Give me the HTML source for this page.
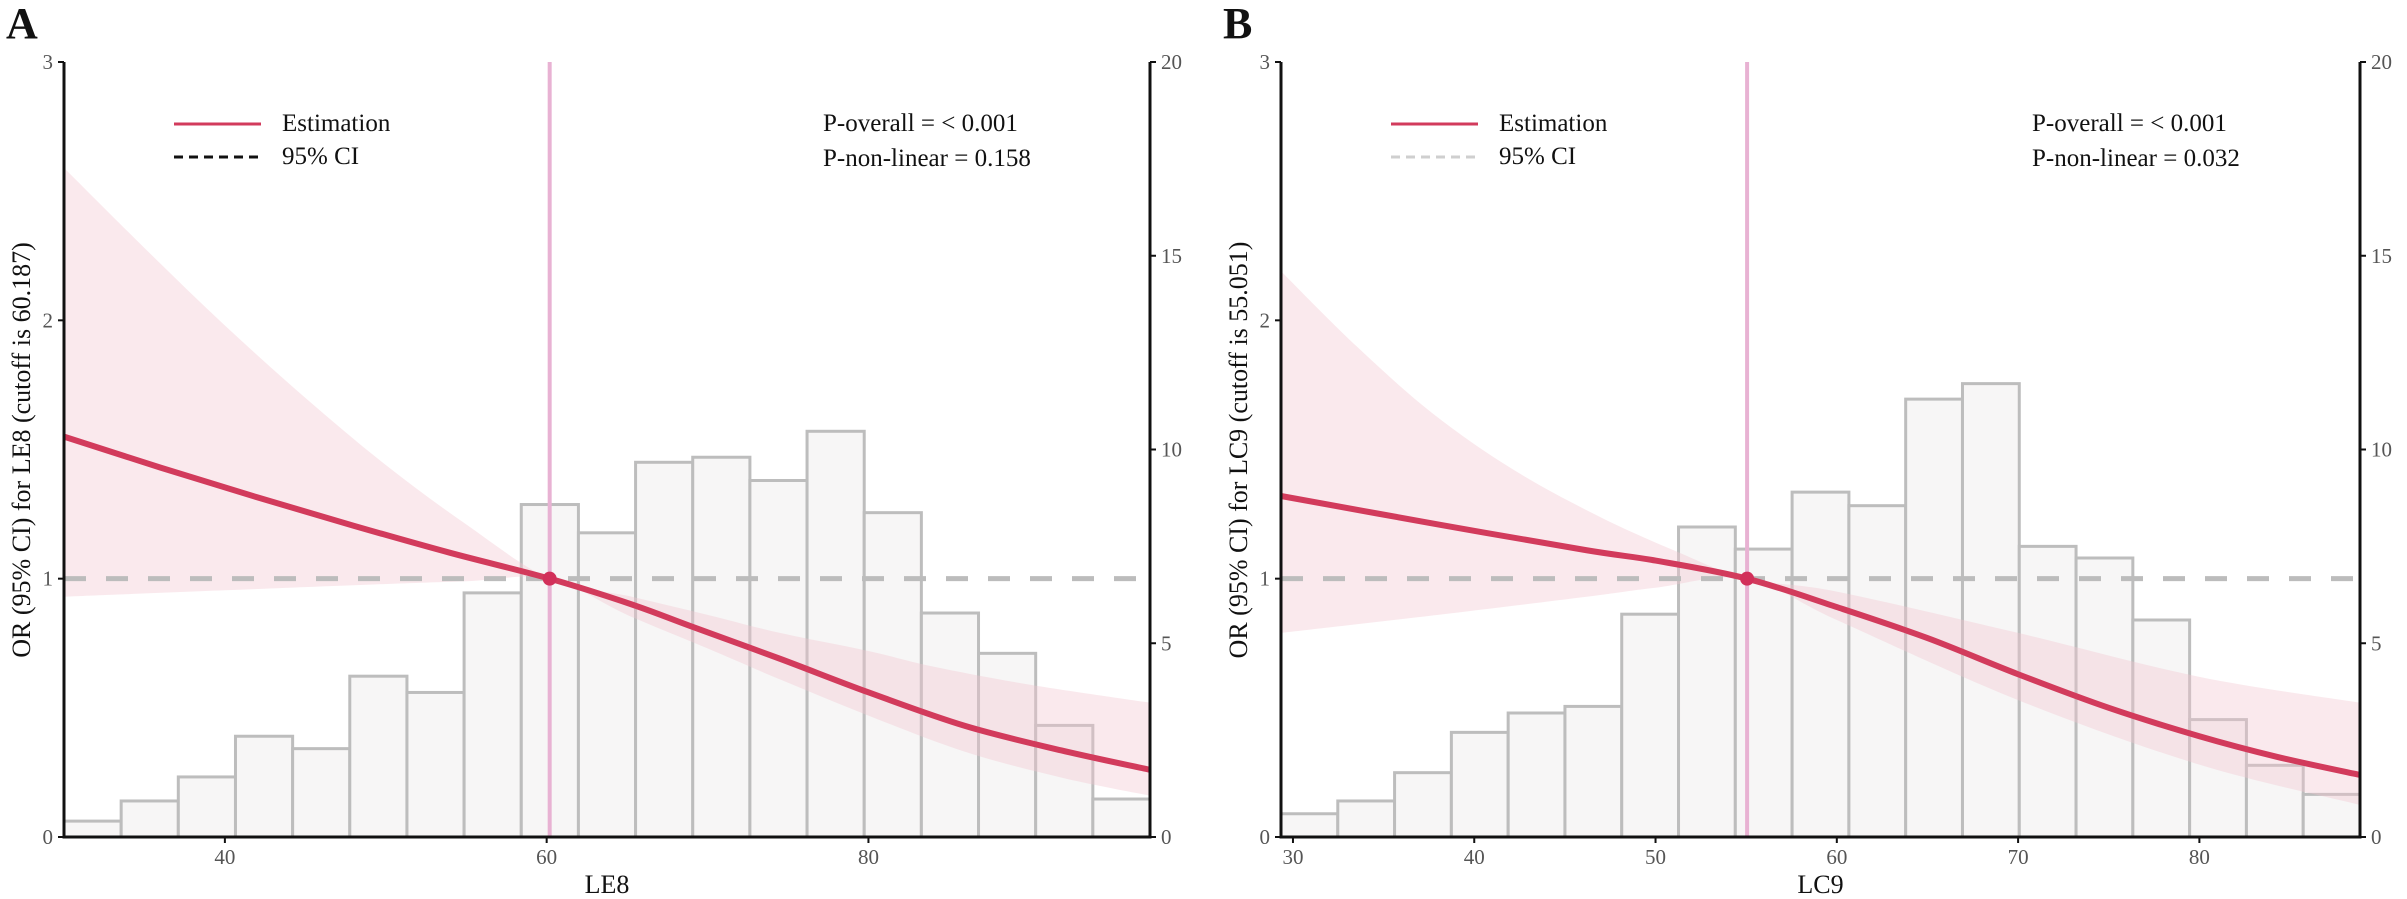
<!DOCTYPE html>
<html><head><meta charset="utf-8"><style>
html,body{margin:0;padding:0;background:#fff;}
svg{display:block;font-family:"Liberation Serif",serif;}
</style></head><body>
<svg id="chart" width="2407" height="899" viewBox="0 0 2407 899" xmlns="http://www.w3.org/2000/svg"></svg>
<script>
// ---------- Panel A data ----------
const aBinCounts = [0.41,0.93,1.55,2.6,2.28,4.15,3.73,6.3,8.58,7.85,9.67,9.8,9.2,10.47,8.37,5.78,4.74,2.88,0.98];
const aEstX = [30,36,42,48,54,60.187,65.3,69,74.5,80,86,92,97.5];
const aEstY = [1.55,1.43,1.315,1.205,1.1,1.0,0.90,0.815,0.69,0.56,0.43,0.335,0.26];
const aUpX = [30,35,40,45,50,55,60.187,65.3,70,74.5,80,84,90,97.5];
const aUpY = [2.59,2.28,1.98,1.7,1.44,1.21,1.0,0.93,0.86,0.79,0.72,0.66,0.59,0.52];
const aLoX = [30,40,49,55,60.187,65,70,74.5,80,86,92,97.5];
const aLoY = [0.93,0.955,0.977,0.99,1.0,0.86,0.73,0.61,0.47,0.33,0.23,0.16];
const aXTicks = [40,60,80];
// ---------- Panel B data ----------
const bBinCounts = [0.6,0.93,1.66,2.7,3.2,3.37,5.75,8.0,7.43,8.9,8.55,11.3,11.7,7.5,7.2,5.6,3.03,1.85,1.1];
const bEstX = [29.34,38,46.2,50,55.05,60,65,70,75,80,84.3,88.86];
const bEstY = [1.32,1.21,1.11,1.07,1.0,0.89,0.77,0.63,0.5,0.39,0.31,0.24];
const bUpX = [29.34,33.5,37.7,42.2,46.9,51,55.05,60,70,80,88.86];
const bUpY = [2.19,1.9,1.64,1.42,1.24,1.11,1.0,0.95,0.79,0.62,0.52];
const bLoX = [29.34,38,46.2,50,55.05,60,70,80,88.86];
const bLoY = [0.79,0.86,0.93,0.965,1.0,0.84,0.53,0.28,0.124];
const bXTicks = [30,40,50,60,70,80];
const leftTicks = [0,1,2,3];
const rightTicks = [0,5,10,15,20];

const NS="http://www.w3.org/2000/svg";
const svg=document.getElementById('chart');
function el(tag,attrs,parent){const e=document.createElementNS(NS,tag);for(const k in attrs)e.setAttribute(k,attrs[k]);(parent||svg).appendChild(e);return e;}
function pathThrough(pts){
  let d=`M${pts[0][0]},${pts[0][1]}`;
  for(let i=0;i<pts.length-1;i++){
    const p0=pts[Math.max(0,i-1)],p1=pts[i],p2=pts[i+1],p3=pts[Math.min(pts.length-1,i+2)];
    const c1=[p1[0]+(p2[0]-p0[0])/6,p1[1]+(p2[1]-p0[1])/6];
    const c2=[p2[0]-(p3[0]-p1[0])/6,p2[1]-(p3[1]-p1[1])/6];
    d+=` C${c1[0]},${c1[1]} ${c2[0]},${c2[1]} ${p2[0]},${p2[1]}`;
  }
  return d;
}
function panel(cfg){
  const g=el('g',{});
  
  
  const x=v=>cfg.x0+(v-cfg.d0)/(cfg.d1-cfg.d0)*(cfg.x1-cfg.x0);
  const yL=v=>837-v*(837-62)/3;
  const yR=v=>837-v*(837-62)/20;
  const n=cfg.bins.length, bw=(cfg.d1-cfg.d0)/n;
  cfg.bins.forEach((c,i)=>{
    const r=el('rect',{x:x(cfg.d0+i*bw),y:yR(c),width:x(cfg.d0+(i+1)*bw)-x(cfg.d0+i*bw),height:837-yR(c),fill:'#f7f6f6',stroke:'#bdbdbd','stroke-width':3},g);
    
    
  });
  const up=cfg.upX.map((v,i)=>[x(v),yL(cfg.upY[i])]);
  const lo=cfg.loX.map((v,i)=>[x(v),yL(cfg.loY[i])]).reverse();
  const band=el('path',{d:pathThrough(up)+' L'+lo[0][0]+','+lo[0][1]+pathThrough(lo).replace(/^M[^C]*/,' ')+' Z',fill:'#f2c6cf','fill-opacity':0.38,stroke:'none'},g);
  
  
  const ref=el('line',{x1:cfg.x0,x2:cfg.x1,y1:yL(1),y2:yL(1),stroke:'#bcbcbc','stroke-width':5,'stroke-dasharray':'22 20'},g);
  
  
  const cut=el('line',{x1:x(cfg.cut),x2:x(cfg.cut),y1:62,y2:837,stroke:'#e8b2d3','stroke-width':4},g);
  
  
  const est=el('path',{d:pathThrough(cfg.estX.map((v,i)=>[x(v),yL(cfg.estY[i])])),fill:'none',stroke:'#d23b5c','stroke-width':6},g);
  
  
  const pt=el('circle',{cx:x(cfg.cut),cy:yL(1),r:7,fill:'#d2305a'},g);
  
  
  const axes=el('path',{d:`M${cfg.x0},62 V837 H${cfg.x1} V62`,fill:'none',stroke:'#111','stroke-width':3},g);
  
  
  leftTicks.forEach(t=>{
    el('line',{x1:cfg.x0-6,x2:cfg.x0,y1:yL(t),y2:yL(t),stroke:'#111','stroke-width':2},g);
    const tx=el('text',{x:cfg.x0-11,y:yL(t)+7,'text-anchor':'end','font-size':21,fill:'#555'},g);
    tx.textContent=t;
    
    
  });
  rightTicks.forEach(t=>{
    el('line',{x1:cfg.x1,x2:cfg.x1+6,y1:yR(t),y2:yR(t),stroke:'#111','stroke-width':2},g);
    const tx=el('text',{x:cfg.x1+11,y:yR(t)+7,'text-anchor':'start','font-size':21,fill:'#555'},g);
    tx.textContent=t;
    
    
  });
  cfg.ticks.forEach(t=>{
    el('line',{x1:x(t),x2:x(t),y1:837,y2:843,stroke:'#111','stroke-width':2},g);
    const tx=el('text',{x:x(t),y:864,'text-anchor':'middle','font-size':21,fill:'#555'},g);
    tx.textContent=t;
    
    
  });
  const xt=el('text',{x:(cfg.x0+cfg.x1)/2,y:893,'text-anchor':'middle','font-size':26,fill:'#111'},g);
  xt.textContent=cfg.xTitle;
  
  
  const yt=el('text',{x:0,y:0,'text-anchor':'middle','font-size':26,fill:'#111',transform:`translate(${cfg.x0-34},450) rotate(-90)`},g);
  yt.textContent=cfg.yTitle;
  
  
  const pl=el('text',{x:cfg.x0-58,y:38,'font-size':44,'font-weight':'bold',fill:'#111'},g);
  pl.textContent=cfg.label;
  
  
  const lx=cfg.x0+110;
  const l1=el('line',{x1:lx,x2:lx+87,y1:124,y2:124,stroke:'#d23b5c','stroke-width':3},g);
  
  
  const l2=el('line',{x1:lx,x2:lx+87,y1:157,y2:157,stroke:cfg.ciLegend,'stroke-width':3,'stroke-dasharray':'9 6'},g);
  
  
  const t1=el('text',{x:lx+108,y:131,'font-size':25,fill:'#111'},g);
  t1.textContent='Estimation';
  
  
  const t2=el('text',{x:lx+108,y:164,'font-size':25,fill:'#111'},g);
  t2.textContent='95% CI';
  
  
  const p1=el('text',{x:cfg.px,y:131,'font-size':25,fill:'#111'},g);
  p1.textContent='P-overall = < 0.001';
  
  
  const p2=el('text',{x:cfg.px,y:166,'font-size':25,fill:'#111'},g);
  p2.textContent=cfg.pnl;
  
  
}
panel({name:'panel-a',label:'A',x0:64,x1:1150,d0:30,d1:97.5,cut:60.187,bins:aBinCounts,estX:aEstX,estY:aEstY,upX:aUpX,upY:aUpY,loX:aLoX,loY:aLoY,ticks:aXTicks,xTitle:'LE8',yTitle:'OR (95% CI) for LE8 (cutoff is 60.187)',px:823,pnl:'P-non-linear = 0.158',ciLegend:'#111'});
panel({name:'panel-b',label:'B',x0:1281,x1:2360,d0:29.34,d1:88.86,cut:55.051,bins:bBinCounts,estX:bEstX,estY:bEstY,upX:bUpX,upY:bUpY,loX:bLoX,loY:bLoY,ticks:bXTicks,xTitle:'LC9',yTitle:'OR (95% CI) for LC9 (cutoff is 55.051)',px:2032,pnl:'P-non-linear = 0.032',ciLegend:'#cfcfcf'});
</script>
</body></html>
